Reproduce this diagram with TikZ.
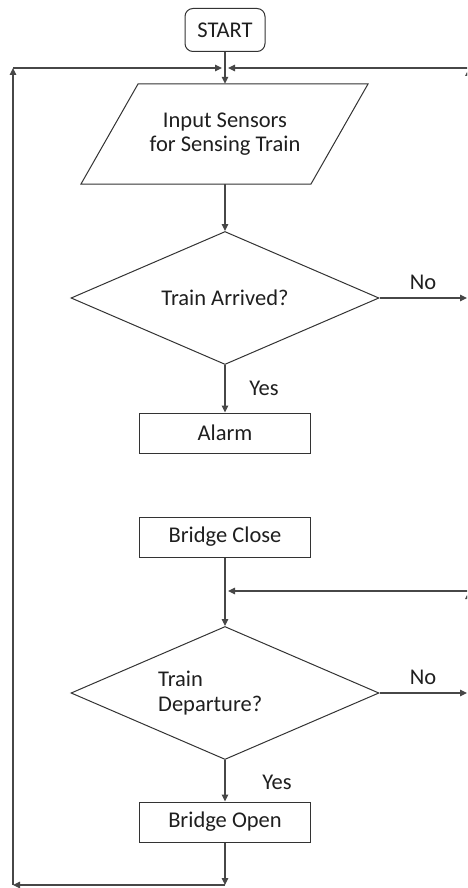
\documentclass[tikz,border=0pt]{standalone}
\usepackage{fontspec}
\setmainfont{Carlito}
\usetikzlibrary{arrows.meta,shapes.geometric}
\begin{document}
\begin{tikzpicture}[x=1pt,y=-1pt,
  font=\fontsize{22.5}{24.5}\selectfont,
  txt/.style={text=black!88},
  conn/.style={draw=black!72, line width=1.1pt},
  arr/.style={conn, -{Triangle[length=7pt,width=6.5pt]}},
  boxst/.style={draw=black!80, line width=1pt, inner sep=0pt, text=black!88},
  procbox/.style={boxst, rectangle, minimum width=171pt, minimum height=40pt},
  decision/.style={boxst, diamond, minimum width=308pt, minimum height=133pt}]
\clip (0,0) rectangle (467,888);
\fill[white] (0,0) rectangle (467,888);

% nodes
\node[boxst, rectangle, rounded corners=8pt, minimum width=80pt, minimum height=43pt] (start) at (225,30) {START};
\draw[boxst] (138,84) -- (368,84) -- (311,184) -- (81,184) -- cycle;
\node[inner sep=0pt, minimum height=100pt, minimum width=2pt, align=center, txt] (inp) at (225,134) {Input Sensors\\for Sensing Train};
\node[decision] (d1) at (225,298) {};
\node[txt] (d1t) at (225,298) {Train Arrived?};
\node[procbox] (alarm) at (225,433) {Alarm};
\node[procbox] (bclose) at (225,537) {Bridge Close};
\node[decision] (d2) at (225,693) {};
\node[txt, anchor=west, align=left, inner sep=0pt] (d2t) at (158,693) {Train\\Departure?};
\node[procbox] (bopen) at (225,822) {Bridge Open};

\node[txt] (no1) at (423,282) {No};
\node[txt] (no2) at (423,677) {No};
\node[txt] (yes1) at (264,388) {Yes};
\node[txt] (yes2) at (277,782) {Yes};

% coordinates
\coordinate (tl) at (13,68);
\coordinate (jt) at (225,68);
\coordinate (bl) at (13,885);
\coordinate (bc) at (225,885);
\coordinate (r1) at (468.5,298);
\coordinate (r1t) at (468.5,69);
\coordinate (r2) at (468.5,693);
\coordinate (r2t) at (468.5,592);
\coordinate (j2) at (225,591);

% connectors
\draw[arr] (start.south) -- (inp.north);
\draw[arr] (inp.south) -- (d1.north);
\draw[arr] (d1.south) -- (alarm.north);
\draw[arr] (d1.east) -- (467,298);
\draw[arr] (r1) -- (r1t);
\draw[arr] (468.5,68) -- ([xshift=3pt]jt);
\draw[arr] (tl) -- ([xshift=-3pt]jt);
\draw[arr] (bclose.south) -- (d2.north);
\draw[arr] (d2.east) -- (467,693);
\draw[arr] (r2) -- (r2t);
\draw[arr] (468.5,591) -- ([xshift=3pt]j2);
\draw[arr] (d2.south) -- (bopen.north);
\draw[arr] (bopen.south) -- (bc);
\draw[arr] (bc) -- (bl);
\draw[arr] (bl) -- (tl);
\end{tikzpicture}
\end{document}
